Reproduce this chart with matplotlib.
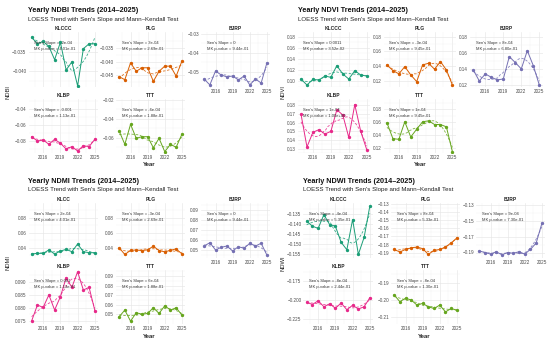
import numpy as np
import matplotlib.pyplot as plt

plt.rcParams['font.family'] = ['Liberation Sans', 'DejaVu Sans']
plt.rcParams['axes.unicode_minus'] = True

years = np.arange(2014, 2026)
sites = ["KLCCC", "PLG", "BJRP", "KLBP", "TTT"]
site_colors = ["#1B9E77", "#D95F02", "#7570B3", "#E7298A", "#66A61E"]

# ---- NDBI
ndbi_klccc = [-0.0311, -0.0328, -0.0322, -0.0335, -0.0370, -0.0324, -0.0397, -0.0376, -0.0439, -0.0341, -0.0328, -0.0328]
ndbi_plg = [-0.0456, -0.0467, -0.0405, -0.0436, -0.0423, -0.0423, -0.0473, -0.0436, -0.0417, -0.0417, -0.0454, -0.0399]
ndbi_bjrp = [-0.0537, -0.0568, -0.0495, -0.0516, -0.0526, -0.0521, -0.0542, -0.0521, -0.0568, -0.0537, -0.0558, -0.0453]
ndbi_klbp = [-0.0745, -0.0800, -0.0787, -0.0841, -0.0778, -0.0828, -0.0900, -0.0871, -0.0925, -0.0859, -0.0871, -0.0778]
ndbi_ttt = [-0.0529, -0.0670, -0.0458, -0.0606, -0.0589, -0.0589, -0.0706, -0.0606, -0.0748, -0.0670, -0.0701, -0.0564]
ndbi_sen = ["-2e-04", "3e-04", "0", "-0.001", "-6e-04"]
ndbi_mk = ["4.01e-01", "2.69e-01", "9.44e-01", "1.13e-01", "1.88e-01"]

# ---- NDVI
ndvi_klccc = [0.1036, 0.0928, 0.1030, 0.1018, 0.1090, 0.1067, 0.1277, 0.1127, 0.1036, 0.1186, 0.1109, 0.1090]
ndvi_plg = [0.1415, 0.1338, 0.1293, 0.1392, 0.1279, 0.1188, 0.1415, 0.1438, 0.1357, 0.1460, 0.1347, 0.1143]
ndvi_bjrp = [0.1387, 0.1250, 0.1337, 0.1296, 0.1263, 0.1275, 0.1552, 0.1478, 0.1400, 0.1626, 0.1440, 0.1200]
ndvi_klbp = [0.1700, 0.1320, 0.1490, 0.1520, 0.1470, 0.1500, 0.1750, 0.1690, 0.1430, 0.1810, 0.1500, 0.1290]
ndvi_ttt = [0.1592, 0.1348, 0.1338, 0.1608, 0.1374, 0.1494, 0.1608, 0.1623, 0.1566, 0.1566, 0.1530, 0.1150]
ndvi_sen = ["0.0011", "-3e-04", "8e-04", "1e-04", "1e-04"]
ndvi_mk = ["3.52e-02", "9.45e-01", "6.80e-01", "1.00e+00", "9.45e-01"]

# ---- NDMI
ndmi_klccc = [0.0316, 0.0325, 0.0325, 0.0370, 0.0316, 0.0356, 0.0378, 0.0347, 0.0449, 0.0347, 0.0334, 0.0334]
ndmi_plg = [0.0400, 0.0310, 0.0365, 0.0370, 0.0362, 0.0372, 0.0420, 0.0362, 0.0345, 0.0365, 0.0385, 0.0318]
ndmi_bjrp = [0.0540, 0.0573, 0.0500, 0.0527, 0.0540, 0.0490, 0.0533, 0.0517, 0.0567, 0.0540, 0.0567, 0.0450]
ndmi_klbp = [0.0749, 0.0810, 0.0801, 0.0849, 0.0791, 0.0842, 0.0915, 0.0878, 0.0938, 0.0868, 0.0878, 0.0789]
ndmi_ttt = [0.0476, 0.0545, 0.0430, 0.0517, 0.0503, 0.0510, 0.0570, 0.0510, 0.0590, 0.0545, 0.0570, 0.0493]
ndmi_sen = ["2e-04", "-3e-04", "0", "0.001", "6e-04"]
ndmi_mk = ["4.01e-01", "2.69e-01", "9.44e-01", "1.13e-01", "1.88e-01"]

# ---- NDWI
ndwi_klccc = [-0.1385, -0.1410, -0.1421, -0.1353, -0.1402, -0.1410, -0.1490, -0.1527, -0.1377, -0.1550, -0.1466, -0.1310]
ndwi_plg = [-0.186, -0.189, -0.186, -0.184, -0.183, -0.185, -0.192, -0.187, -0.186, -0.183, -0.178, -0.172]
ndwi_bjrp = [-0.188, -0.190, -0.192, -0.189, -0.193, -0.190, -0.191, -0.189, -0.192, -0.186, -0.178, -0.153]
ndwi_klbp = [-0.203, -0.206, -0.201, -0.209, -0.205, -0.211, -0.204, -0.213, -0.207, -0.212, -0.209, -0.197]
ndwi_ttt = [-0.197, -0.201, -0.199, -0.200, -0.203, -0.202, -0.204, -0.205, -0.203, -0.207, -0.205, -0.206]
ndwi_sen = ["-4e-04", "8e-04", "9e-04", "-8e-04", "-8e-04"]
ndwi_mk = ["5.35e-01", "5.33e-01", "7.30e-01", "2.44e-01", "1.30e-01"]

# axis ranges/ticks per panel (layout only)
ndbi_lims = [(-0.0442, -0.0297), (-0.0494, -0.0291), (-0.0579, -0.029), (-0.0951, -0.027), (-0.0762, -0.0189)]
ndbi_ticks = [[-0.040, -0.035], [-0.045, -0.040, -0.035], [-0.05, -0.04, -0.03], [-0.08, -0.06, -0.04], [-0.06, -0.04, -0.02]]
ndvi_lims = [(0.0892, 0.1885), (0.1114, 0.1864), (0.1175, 0.1858), (0.125, 0.1875), (0.1127, 0.1959)]
ndvi_ticks = [[0.10, 0.12, 0.14, 0.16, 0.18], [0.12, 0.14, 0.16, 0.18], [0.12, 0.14, 0.16, 0.18],
              [0.13, 0.14, 0.15, 0.16, 0.17, 0.18], [0.12, 0.14, 0.16, 0.18]]
ndmi_lims = [(0.0263, 0.0996), (0.0263, 0.0996), (0.042, 0.097), (0.0737, 0.0945), (0.040, 0.0963)]
ndmi_ticks = [[0.04, 0.06, 0.08], [0.04, 0.06, 0.08], [0.05, 0.06, 0.07, 0.08, 0.09],
              [0.075, 0.080, 0.085, 0.090], [0.05, 0.06, 0.07, 0.08, 0.09]]
ndwi_lims = [(-0.1568, -0.1295), (-0.1964, -0.1292), (-0.197, -0.127), (-0.232, -0.160), (-0.2141, -0.1824)]
ndwi_ticks = [[-0.155, -0.150, -0.145, -0.140, -0.135], [-0.19, -0.18, -0.17, -0.16, -0.15, -0.14, -0.13],
              [-0.19, -0.17, -0.15, -0.13], [-0.225, -0.200, -0.175], [-0.21, -0.20, -0.19]]


def loess(x, y, xs, span=0.75):
    x = np.asarray(x, float)
    y = np.asarray(y, float)
    q = int(np.floor(span * len(x)))
    out = []
    for x0 in xs:
        d = np.abs(x - x0)
        h = np.sort(d)[q - 1] * 1.0001
        w = np.clip(1 - (d / h) ** 3, 0, None) ** 3
        X = np.vstack([np.ones_like(x), x - x0, (x - x0) ** 2]).T
        A = X.T @ (X * w[:, None])
        b = X.T @ (w * y)
        out.append(np.linalg.solve(A, b)[0])
    return np.array(out)


def fmt_ticks(ticks):
    for d in range(1, 5):
        if all(abs(round(t, d) - t) < 1e-9 for t in ticks):
            return [("%.*f" % (d, t)).replace("-", "\u2212") for t in ticks]
    return [("%.3f" % t).replace("-", "\u2212") for t in ticks]


W, H = 550, 342
fig = plt.figure(figsize=(5.5, 3.42), dpi=100)


def fx(x):
    return x / W


def fy(y):
    return 1 - y / H


rows = [(32, 87), (99, 153)]
cols_std = [(28.5, 98), (116, 185), (201, 270)]
cols_ndvi = [(22.7, 95), (108.7, 180.6), (195, 267.6)]
spots = [(0, 0), (0, 1), (0, 2), (1, 0), (1, 1)]
xs = np.linspace(2014, 2025, 80)


def quadrant(ox, oy, index, series, sen, mk, lims, ticks, cols, names):
    fig.text(fx(ox + cols[0][0]), fy(oy + 10), "Yearly %s Trends (2014\u20132025)" % index,
             fontsize=5.2, fontweight='bold', ha='left', va='center', color='#111111')
    fig.text(fx(ox + cols[0][0]), fy(oy + 19), "LOESS Trend with Sen's Slope and Mann\u2013Kendall Test",
             fontsize=4.4, ha='left', va='center', color='#222222')
    fig.text(fx(ox + 8), fy(oy + 92), index, fontsize=4.2, rotation=90, ha='center', va='center', color='#222222')
    fig.text(fx(ox + (cols[0][0] + cols[2][1]) / 2), fy(oy + 165), "Year", fontsize=4.3,
             fontweight='bold', ha='center', va='center', color='#222222')
    for k in range(5):
        r, c = spots[k]
        x0, x1 = cols[c]
        y0, y1 = rows[r]
        ax = fig.add_axes([fx(ox + x0), fy(oy + y1), (x1 - x0) / W, (y1 - y0) / H])
        vals = series[k]
        col = site_colors[k]
        ax.plot(xs, loess(years, vals, xs), color=col, lw=0.6, ls=(0, (3, 2)), alpha=0.85)
        ax.plot(years, vals, color=col, lw=0.7, marker='o', ms=1.4)
        ax.set_xlim(2013.45, 2025.55)
        t = ticks[k]
        ax.set_xticks([2016, 2019, 2022, 2025])
        ax.set_xticks([2014.5, 2017.5, 2020.5, 2023.5], minor=True)
        ax.set_yticks(t)
        ax.set_yticklabels(fmt_ticks(t))
        step = t[1] - t[0]
        ax.set_yticks([t[0] - step / 2] + [v + step / 2 for v in t], minor=True)
        ax.set_ylim(*lims[k])
        ax.grid(which='major', color='#e6e6e6', lw=0.45)
        ax.grid(which='minor', color='#f2f2f2', lw=0.3)
        ax.set_axisbelow(True)
        for s in ax.spines.values():
            s.set_visible(False)
        ax.tick_params(which='both', length=0, labelsize=3.3, colors='#4d4d4d', pad=1.5)
        if (r, c) in [(0, 0), (0, 1)]:
            ax.tick_params(labelbottom=False)
        ax.set_title(names[k], fontsize=3.5, fontweight='bold', pad=1.6, color='#222222')
        ax.text(0.08, 0.80, "Sen's Slope = " + sen[k], transform=ax.transAxes,
                fontsize=3.0, ha='left', va='center', color='#333333')
        ax.text(0.08, 0.69, "MK p-value = " + mk[k], transform=ax.transAxes,
                fontsize=3.0, ha='left', va='center', color='#333333')


quadrant(0, 0, "NDBI", [ndbi_klccc, ndbi_plg, ndbi_bjrp, ndbi_klbp, ndbi_ttt],
         ndbi_sen, ndbi_mk, ndbi_lims, ndbi_ticks, cols_std, sites)
quadrant(275, 0, "NDVI", [ndvi_klccc, ndvi_plg, ndvi_bjrp, ndvi_klbp, ndvi_ttt],
         ndvi_sen, ndvi_mk, ndvi_lims, ndvi_ticks, cols_ndvi, sites)
quadrant(0, 171, "NDMI", [ndmi_klccc, ndmi_plg, ndmi_bjrp, ndmi_klbp, ndmi_ttt],
         ndmi_sen, ndmi_mk, ndmi_lims, ndmi_ticks, cols_std, ["KLCC"] + sites[1:])
quadrant(275, 171, "NDWI", [ndwi_klccc, ndwi_plg, ndwi_bjrp, ndwi_klbp, ndwi_ttt],
         ndwi_sen, ndwi_mk, ndwi_lims, ndwi_ticks, cols_std, sites)

fig.savefig("out.png", dpi=100, facecolor='white')
